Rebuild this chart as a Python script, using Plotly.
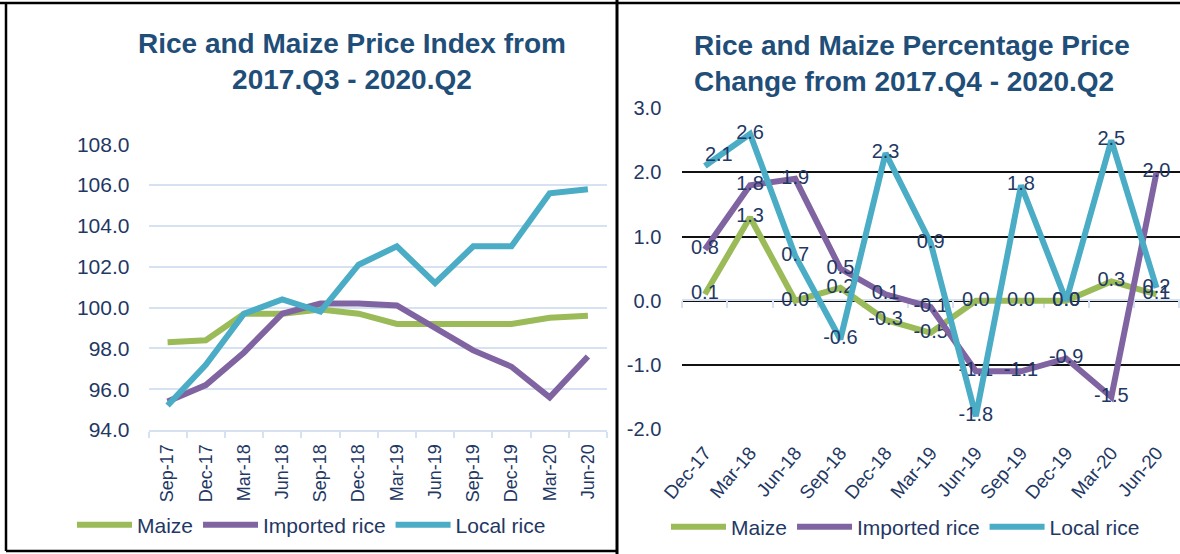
import plotly.graph_objects as go

# left chart: price index
idx_quarters = ["Sep-17", "Dec-17", "Mar-18", "Jun-18", "Sep-18", "Dec-18",
                "Mar-19", "Jun-19", "Sep-19", "Dec-19", "Mar-20", "Jun-20"]
idx_maize = [98.3, 98.4, 99.7, 99.7, 99.9, 99.7, 99.2, 99.2, 99.2, 99.2, 99.5, 99.6]
idx_imported = [95.4, 96.2, 97.8, 99.7, 100.2, 100.2, 100.1, 99.0, 97.9, 97.1, 95.6, 97.6]
idx_local = [95.2, 97.2, 99.7, 100.4, 99.8, 102.1, 103.0, 101.2, 103.0, 103.0, 105.6, 105.8]

# right chart: percentage change
chg_quarters = ["Dec-17", "Mar-18", "Jun-18", "Sep-18", "Dec-18", "Mar-19",
                "Jun-19", "Sep-19", "Dec-19", "Mar-20", "Jun-20"]
chg_maize = [0.1, 1.3, 0.0, 0.2, -0.3, -0.5, 0.0, 0.0, 0.0, 0.3, 0.1]
chg_imported = [0.8, 1.8, 1.9, 0.5, 0.1, -0.1, -1.1, -1.1, -0.9, -1.5, 2.0]
chg_local = [2.1, 2.6, 0.7, -0.6, 2.3, 0.9, -1.8, 1.8, 0.0, 2.5, 0.2]

left_ticks = [94, 96, 98, 100, 102, 104, 106, 108]
right_ticks = [-2, -1, 0, 1, 2, 3]

W, H = 1180, 554
GREEN, PURPLE, BLUE = "#9BBB59", "#8064A2", "#4BACC6"
NAVY = "#1F3864"
TITLE = "#1F4E79"
GRIDBLUE = "#D6E1F2"
FONT = "Liberation Sans, Arial"


def px_x(v):
    return v / W


def px_y(v):
    return 1 - v / H


def fmt(v):
    return f"{v:.1f}"


fig = go.Figure()

series = [("Maize", GREEN), ("Imported rice", PURPLE), ("Local rice", BLUE)]

for (name, color), vals in zip(series, [idx_maize, idx_imported, idx_local]):
    fig.add_trace(go.Scatter(
        x=idx_quarters, y=vals, mode="lines", name=name,
        line={"color": color, "width": 6}, xaxis="x", yaxis="y", legend="legend",
    ))

for (name, color), vals in zip(series, [chg_maize, chg_imported, chg_local]):
    positions = ["middle center"] * len(vals)
    if name == "Local rice":
        positions[0] = "top right"  # label nudged off the line in the original
    fig.add_trace(go.Scatter(
        x=chg_quarters, y=vals, mode="lines+text", name=name,
        text=[fmt(v) for v in vals], textposition=positions,
        textfont={"family": FONT, "size": 20, "color": NAVY},
        line={"color": color, "width": 6}, xaxis="x2", yaxis="y2", legend="legend2",
    ))

# invisible trace so the zero-crossing category axis gets drawn
fig.add_trace(go.Scatter(
    x=chg_quarters, y=chg_maize, mode="lines", line={"width": 0},
    showlegend=False, hoverinfo="skip", xaxis="x3", yaxis="y2",
))

zero_pos = px_y(300)

fig.update_layout(
    width=W, height=H,
    margin={"l": 0, "r": 0, "t": 0, "b": 0},
    template="none",
    paper_bgcolor="white", plot_bgcolor="rgba(0,0,0,0)",
    font={"family": FONT, "color": NAVY},
    xaxis={
        "domain": [px_x(148.5), px_x(607)], "anchor": "y",
        "type": "category", "range": [-0.5, 11.5],
        "tickangle": -90, "tickson": "boundaries",
        "ticks": "outside", "ticklen": 6, "tickcolor": GRIDBLUE, "tickwidth": 2,
        "showline": True, "linecolor": GRIDBLUE, "linewidth": 2,
        "showgrid": False, "tickfont": {"size": 18, "color": NAVY},
        "ticklabelstandoff": 5, "automargin": False,
    },
    yaxis={
        "domain": [px_y(430), px_y(144.3)], "anchor": "x",
        "range": [94, 108], "tickvals": left_ticks,
        "ticktext": [fmt(v) for v in left_ticks],
        "showgrid": True, "gridcolor": GRIDBLUE, "gridwidth": 2,
        "zeroline": False, "showline": False, "ticks": "",
        "ticklabelstandoff": 18,
        "tickfont": {"size": 21, "color": NAVY}, "automargin": False,
    },
    xaxis2={
        "domain": [px_x(682.3), 1.0], "anchor": "y2",
        "type": "category", "range": [-0.5, 10.52], "tickangle": -50,
        "showline": False, "ticks": "", "showgrid": False,
        "tickfont": {"size": 19, "color": NAVY}, "ticklabelstandoff": 8,
        "automargin": False,
    },
    xaxis3={
        "domain": [px_x(682.3), 1.0], "anchor": "free", "position": zero_pos,
        "overlaying": "x2", "type": "category", "range": [-0.5, 10.52],
        "tickson": "boundaries", "ticks": "outside", "ticklen": 7,
        "tickcolor": GRIDBLUE, "tickwidth": 2,
        "showline": True, "linecolor": GRIDBLUE, "linewidth": 2,
        "showticklabels": False, "showgrid": False, "layer": "below traces",
        "automargin": False,
    },
    yaxis2={
        "domain": [px_y(429), px_y(108.3)], "anchor": "x2",
        "range": [-2, 3], "tickvals": right_ticks,
        "ticktext": [fmt(v) for v in right_ticks],
        "showgrid": True, "gridcolor": "#111111", "gridwidth": 2,
        "zeroline": False, "showline": False, "ticks": "",
        "ticklabelstandoff": 20,
        "tickfont": {"size": 20, "color": NAVY}, "automargin": False,
    },
    legend={
        "orientation": "h", "x": px_x(72), "y": px_y(525),
        "xanchor": "left", "yanchor": "middle",
        "font": {"size": 21, "color": NAVY}, "bgcolor": "rgba(0,0,0,0)",
        "itemwidth": 55, "tracegroupgap": 0,
    },
    legend2={
        "orientation": "h", "x": px_x(666), "y": px_y(527),
        "xanchor": "left", "yanchor": "middle",
        "font": {"size": 21, "color": NAVY}, "bgcolor": "rgba(0,0,0,0)",
        "itemwidth": 55, "tracegroupgap": 0,
    },
    annotations=[
        {"text": "<b>Rice and Maize Price Index from<br>2017.Q3 - 2020.Q2</b>",
         "x": px_x(352), "y": px_y(61), "xref": "paper", "yref": "paper",
         "showarrow": False, "xanchor": "center", "yanchor": "middle",
         "align": "center", "font": {"size": 28, "color": TITLE}},
        {"text": "<b>Rice and Maize Percentage Price<br>Change from 2017.Q4 - 2020.Q2</b>",
         "x": px_x(692), "y": px_y(64), "xref": "paper", "yref": "paper",
         "showarrow": False, "xanchor": "left", "yanchor": "middle",
         "align": "left", "font": {"size": 28, "color": TITLE}},
    ],
    shapes=[
        # panel frames
        {"type": "line", "xref": "paper", "yref": "paper",
         "x0": 0, "x1": 1, "y0": px_y(3), "y1": px_y(3),
         "line": {"color": "black", "width": 2.5}},
        {"type": "line", "xref": "paper", "yref": "paper",
         "x0": px_x(6), "x1": px_x(6), "y0": px_y(3), "y1": px_y(551),
         "line": {"color": "black", "width": 2.5}},
        {"type": "line", "xref": "paper", "yref": "paper",
         "x0": px_x(6), "x1": px_x(617), "y0": px_y(551), "y1": px_y(551),
         "line": {"color": "black", "width": 2.5}},
        {"type": "line", "xref": "paper", "yref": "paper",
         "x0": px_x(617), "x1": px_x(617), "y0": 1, "y1": 0,
         "line": {"color": "black", "width": 3}},
    ],
)

fig.write_html("out.html", config={"displayModeBar": False},
               post_script="document.body.style.margin='0';")
